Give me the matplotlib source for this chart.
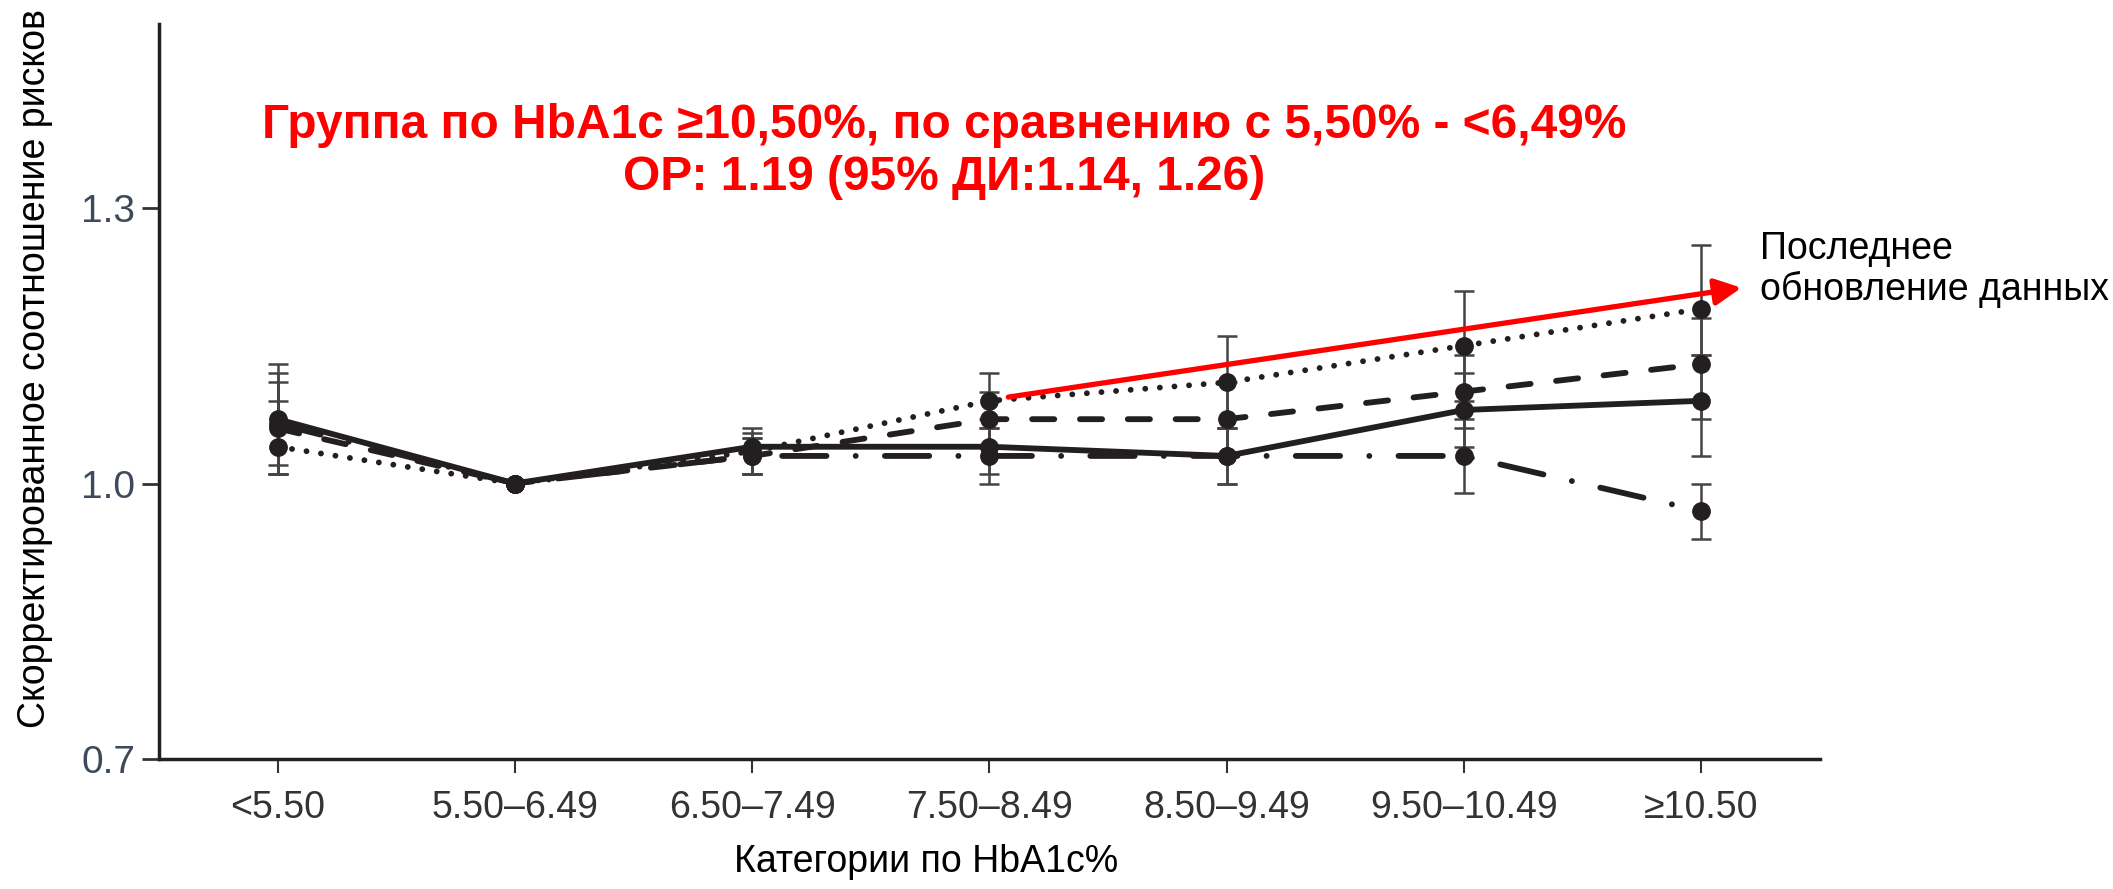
import numpy as np
import matplotlib
matplotlib.use("Agg")
import matplotlib.pyplot as plt

plt.rcParams['font.family'] = ['Liberation Sans', 'DejaVu Sans']

# HbA1c categories
categories = ['<5.50', '5.50–6.49', '6.50–7.49', '7.50–8.49', '8.50–9.49', '9.50–10.49', '≥10.50']

# adjusted hazard ratios, one list per line style (NaN = reference, no CI)
hr_solid = [1.07, 1.00, 1.04, 1.04, 1.03, 1.08, 1.09]
lo_solid = [1.02, np.nan, 1.01, 1.01, 1.00, 1.04, 1.03]
hi_solid = [1.13, np.nan, 1.06, 1.07, 1.06, 1.12, 1.14]

hr_dashed = [1.06, 1.00, 1.03, 1.07, 1.07, 1.10, 1.13]
lo_dashed = [1.01, np.nan, 1.01, 1.04, 1.03, 1.06, 1.07]
hi_dashed = [1.12, np.nan, 1.055, 1.10, 1.11, 1.14, 1.18]

hr_dotted = [1.04, 1.00, 1.035, 1.09, 1.11, 1.15, 1.19]
lo_dotted = [1.01, np.nan, 1.01, 1.06, 1.06, 1.09, 1.14]
hi_dotted = [1.09, np.nan, 1.05, 1.12, 1.16, 1.21, 1.26]

hr_dashdot = [1.065, 1.00, 1.03, 1.03, 1.03, 1.03, 0.97]
lo_dashdot = [1.01, np.nan, 1.01, 1.00, 1.00, 0.99, 0.94]
hi_dashdot = [1.11, np.nan, 1.05, 1.06, 1.06, 1.07, 1.00]

yticks = [0.7, 1.0, 1.3]

fig = plt.figure(figsize=(21.13, 8.89), dpi=100)
ax = fig.add_axes([0.0752, 0.146, 0.786, 0.827])

x = np.arange(len(categories))
series = [
    (hr_solid, lo_solid, hi_solid, '-'),
    (hr_dashed, lo_dashed, hi_dashed, (0, (3.8, 4.4))),
    (hr_dotted, lo_dotted, hi_dotted, (0, (0.01, 2.5))),
    (hr_dashdot, lo_dashdot, hi_dashdot, (0, (7.6, 5.0, 0.01, 5.0))),
]

for hr, lo, hi, ls in series:
    hr = np.array(hr)
    lo = np.array(lo)
    hi = np.array(hi)
    m = ~np.isnan(lo)
    # confidence intervals
    ax.errorbar(x[m], hr[m], yerr=[hr[m] - lo[m], hi[m] - hr[m]], fmt='none',
                ecolor='#444444', elinewidth=1.8, capsize=7, capthick=1.8, zorder=2)
    ax.plot(x, hr, color='#231f20', lw=4.2, linestyle=ls, marker='o',
            markersize=12.5, dash_capstyle='round', solid_capstyle='round', zorder=3)

ax.set_xlim(-0.5, 6.5)
ax.set_ylim(0.7, 1.5)
ax.set_xticks(x)
ax.set_xticklabels(categories, fontsize=27, color='#333333')
ax.set_yticks(yticks)
ax.set_yticklabels([f'{v:.1f}' for v in yticks], fontsize=28, color='#3e4a5c')
ax.tick_params(axis='x', length=10, width=1.5, pad=12, color='#333333')
ax.tick_params(axis='y', length=12, width=2, pad=5, color='#333333')
for s in ['top', 'right']:
    ax.spines[s].set_visible(False)
for s in ['left', 'bottom']:
    ax.spines[s].set_linewidth(2.5)
    ax.spines[s].set_color('#231f20')

ax.set_ylabel('Скорректированное соотношение рисков', fontsize=27)
ax.yaxis.set_label_coords(-0.064, 0.532)
ax.set_xlabel('Категории по HbA1c%', fontsize=27)
ax.xaxis.set_label_coords(0.462, -0.115)

# title block in red
fig.text(0.447, 0.83, 'Группа по HbA1c ≥10,50%, по сравнению с 5,50% - <6,49%\nОР: 1.19 (95% ДИ:1.14, 1.26)',
         color='#ff0000', fontsize=34.5, fontweight='bold', ha='center', va='center',
         multialignment='center', linespacing=1.2)

# arrow to last update line
ax.annotate('', xy=(6.17, 1.213), xytext=(3.08, 1.094),
            arrowprops=dict(arrowstyle='-|>,head_length=0.8,head_width=0.4',
                            mutation_scale=20, color='#ff0000', lw=3.8,
                            shrinkA=0, shrinkB=0))
fig.text(0.833, 0.697, 'Последнее\nобновление данных', fontsize=27, ha='left', va='center',
         linespacing=1.15)

fig.savefig('out.png', dpi=100)
